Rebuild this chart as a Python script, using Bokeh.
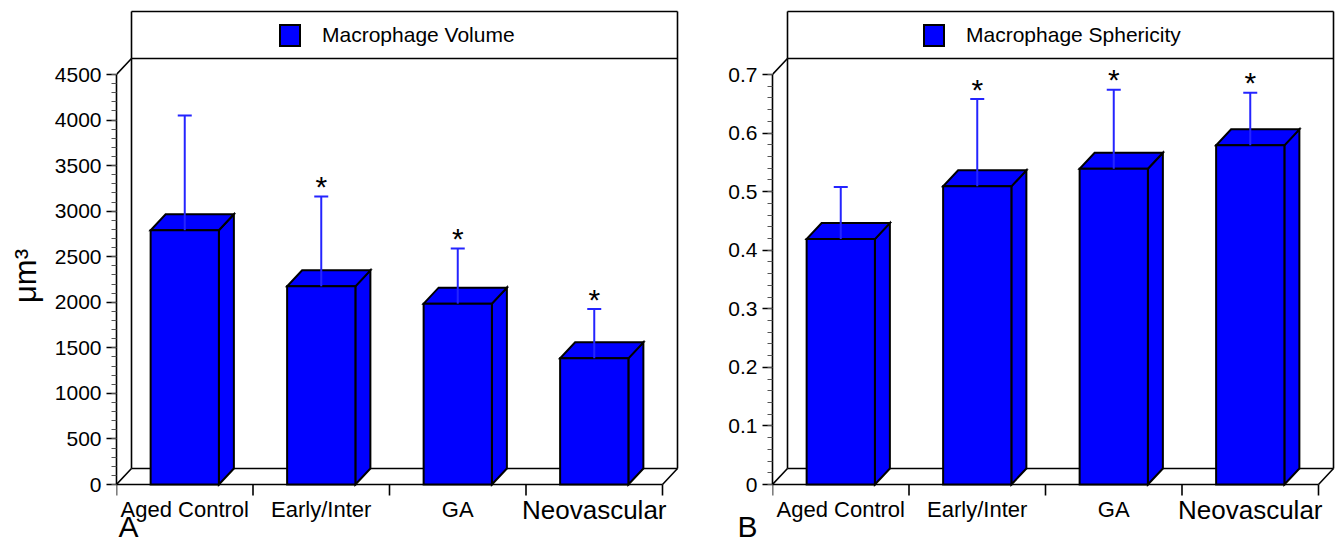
import numpy as np
from bokeh.plotting import figure
from bokeh.layouts import row
from bokeh.models import (FixedTicker, Legend, LegendItem, Label, Range1d,
                          NumeralTickFormatter, BasicTickFormatter)
from bokeh.core.properties import value
from bokeh.embed import file_html
from bokeh.resources import INLINE

# ---------------- data ----------------
categories = ["Aged Control", "Early/Inter", "GA", "Neovascular"]
volume_mean = [2790, 2175, 1985, 1385]
volume_sd = [1260, 985, 605, 540]
sphericity_mean = [0.419, 0.509, 0.539, 0.579]
sphericity_sd = [0.089, 0.149, 0.135, 0.090]
significant = [False, True, True, True]
volume_ticks = [0, 500, 1000, 1500, 2000, 2500, 3000, 3500, 4000, 4500]
sphericity_ticks = [0, 0.1, 0.2, 0.3, 0.4, 0.5, 0.6, 0.7]

# ---------------- style / layout ----------------
FONT = "Liberation Sans"
BLUE = "#0000ff"
ERR = "#2424ff"
PAGE_TOP = 0
ZERO_Y = 484        # page y of value 0
TOP_TICK_Y = 74     # page y of the top tick
FRAME_TOP = 5
FRAME_BOTTOM = 546
LEGEND_TOP = 11
SWATCH_BOTTOM = 48
DX_PX = 15
DY_PX = 16


def panel(means, sds, ticks, minor_ticks, formatter, legend_text, fig_left, axis_x,
          frame_right, fig_right, ppx, swatch_x, letter, letter_x, ylabel=None):
    n = len(categories)
    ymax = ticks[-1]
    ppy = (ZERO_Y - TOP_TICK_Y) / ymax
    y_end = (ZERO_Y - FRAME_TOP) / ppy
    y_start = -(FRAME_BOTTOM - ZERO_Y) / ppy
    x_end = (frame_right - axis_x) / ppx
    p = figure(frame_width=frame_right - axis_x, frame_height=FRAME_BOTTOM - FRAME_TOP,
               min_border_left=axis_x - fig_left, min_border_right=fig_right - frame_right,
               min_border_top=FRAME_TOP - PAGE_TOP, min_border_bottom=0,
               x_range=Range1d(0, x_end), y_range=Range1d(y_start, y_end),
               x_axis_location=None, output_backend="svg", toolbar_location=None)
    p.grid.grid_line_color = None
    p.outline_line_color = None
    p.background_fill_color = "white"
    p.border_fill_color = "white"

    ax = p.yaxis[0]
    ax.ticker = FixedTicker(ticks=ticks, minor_ticks=minor_ticks)
    ax.formatter = formatter
    ax.bounds = (0, ymax)
    ax.axis_line_width = 1.6
    ax.axis_line_color = "black"
    ax.major_tick_out = 10
    ax.major_tick_in = 0
    ax.major_tick_line_width = 1.3
    ax.minor_tick_out = 5
    ax.minor_tick_in = 0
    ax.minor_tick_line_color = "#555555"
    ax.minor_tick_line_width = 1
    ax.major_label_standoff = 5
    ax.major_label_text_font = FONT
    ax.major_label_text_font_size = "21px"
    ax.major_label_text_color = "black"
    if ylabel:
        ax.axis_label = ylabel
        ax.axis_label_text_font = FONT
        ax.axis_label_text_font_size = "31px"
        ax.axis_label_text_font_style = "normal"
        ax.axis_label_text_color = "black"
        ax.axis_label_standoff = 9

    dx = DX_PX / ppx
    dy = DY_PX / ppy
    y_leg = (ZERO_Y - LEGEND_TOP) / ppy
    tick_len = 11 / ppy

    # walls, floor, legend box
    x0 = [0, dx, 0, n, 0, dx, n + dx, dx, dx, dx]
    y0 = [0, dy, 0, 0, ymax, dy, dy, y_leg, ymax + dy, ymax + dy]
    x1 = [n, n + dx, dx, n + dx, dx, dx, n + dx, n + dx, n + dx, dx]
    y1 = [0, dy, dy, dy, ymax + dy, ymax + dy, y_leg, y_leg, ymax + dy, y_leg]
    for k in range(n + 1):
        x0.append(k); y0.append(0); x1.append(k); y1.append(-tick_len)
    p.segment(x0=x0, y0=y0, x1=x1, y1=y1, line_color="black", line_width=1.6)

    xc = [i + 0.5 for i in range(n)]
    hw = 0.25
    top_xs = [[x - hw, x + hw, x + hw + dx, x - hw + dx] for x in xc]
    top_ys = [[m, m, m + dy, m + dy] for m in means]
    side_xs = [[x + hw, x + hw + dx, x + hw + dx, x + hw] for x in xc]
    side_ys = [[0, dy, m + dy, m] for m in means]
    p.patches(xs=side_xs, ys=side_ys, fill_color=BLUE, line_color="black", line_width=2,
              line_join="miter")
    p.patches(xs=top_xs, ys=top_ys, fill_color=BLUE, line_color="black", line_width=2,
              line_join="miter")
    front = p.quad(left=[x - hw for x in xc], right=[x + hw for x in xc], bottom=0, top=means,
                   fill_color=BLUE, line_color="black", line_width=2, line_join="miter")

    # error bars
    cw = 7 / ppx
    tops = [m + s for m, s in zip(means, sds)]
    p.segment(x0=xc, y0=means, x1=xc, y1=tops, line_color=ERR, line_width=2)
    p.segment(x0=[x - cw for x in xc], y0=tops, x1=[x + cw for x in xc], y1=tops,
              line_color=ERR, line_width=2)
    sx = [x for x, s in zip(xc, significant) if s]
    sy = [t + 10 / ppy for t, s in zip(tops, significant) if s]
    p.text(x=sx, y=sy, text=["*"] * len(sx), text_align="center",
           text_baseline="alphabetic", text_font=value(FONT), text_font_size="30px",
           text_color="black")

    # category labels
    sizes = ["26px" if c == "Neovascular" else "22px" for c in categories]
    p.text(x=xc, y=[-25 / ppy] * n, text=categories, text_align="center",
           text_baseline="alphabetic", text_font=value(FONT), text_font_size=sizes,
           text_color="black")

    # legend
    leg = Legend(items=[LegendItem(label=legend_text, renderers=[front])],
                 location=(swatch_x - axis_x, FRAME_BOTTOM - SWATCH_BOTTOM),
                 orientation="horizontal", padding=0, margin=0, spacing=0,
                 border_line_color=None, background_fill_alpha=0,
                 glyph_width=25, glyph_height=26, label_height=26,
                 label_standoff=20, label_text_font=FONT,
                 label_text_font_size="21px", label_text_color="black")
    p.add_layout(leg)

    # panel letter, in a side panel so that it is not clipped to the frame
    p.add_layout(Label(x=(letter_x - axis_x) / ppx, y=-(526 - ZERO_Y) / ppy, text=letter,
                       text_font=FONT, text_font_size="30px", text_color="black",
                       text_baseline="alphabetic", text_align="left"), "below")
    return p


minor_v = [v for v in range(0, 4501, 100)]
minor_s = [round(i * 0.02, 2) for i in range(36)]

pA = panel(volume_mean, volume_sd, volume_ticks, minor_v, BasicTickFormatter(),
           "Macrophage Volume", 0, 116, 692, 700, 136.5, 277, "A", 118, ylabel="μm³")
pB = panel(sphericity_mean, sphericity_sd, sphericity_ticks, minor_s,
           NumeralTickFormatter(format="0.[0]"),
           "Macrophage Sphericity", 700, 772, 1336, 1336, 136.5, 921, "B", 737)

layout = row(pA, pB)
open("out.html", "w").write(file_html(layout, INLINE))
